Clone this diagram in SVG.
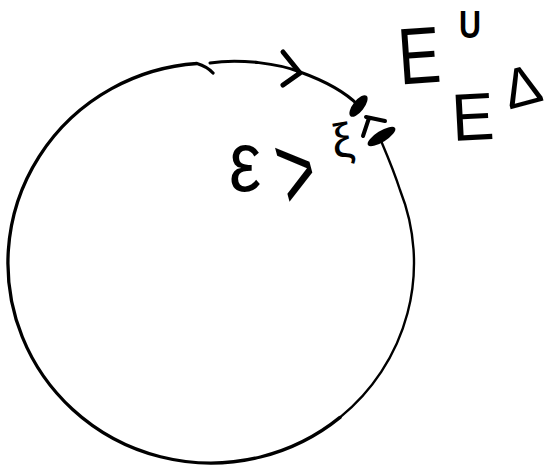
<svg xmlns="http://www.w3.org/2000/svg" width="549" height="468" viewBox="0 0 549 468">
<style>
.ln{fill:none;stroke:#000;stroke-linecap:round;stroke-linejoin:round}
.tx{font-family:"Liberation Sans",Arial,sans-serif;fill:#000}
</style>
<rect width="549" height="468" fill="#fff"/>
<g id="connectors">
<path class="ln" stroke-width="3.3" d="M213,73 Q207,66.5 197,63.5 A203,200 0 1 0 340,417.4"/>
<path class="ln" stroke-width="2.4" d="M340,417.4 A203,200 0 0 0 400,190 C393,168 384,148 379,136"/>
<path class="ln" stroke-width="3" d="M210,63 C240,58 280,64 300,72 C325,81 345,92 358,105"/>
<path class="ln" stroke-width="5" d="M283,52 L300,73 L283,85"/>
<ellipse cx="358.5" cy="106" rx="13" ry="5.5" transform="rotate(-52 358.5 106)" fill="#000"/>
<ellipse cx="381.5" cy="136.5" rx="16" ry="5.5" transform="rotate(-32 381.5 136.5)" fill="#000"/>
<path class="ln" stroke-width="4" d="M363,136 L369,118 M366,117 L385,121"/>
</g>
<g id="label-eps">
<text class="tx" font-size="85" text-anchor="middle" transform="translate(245,191) scale(0.85,1)">ε</text>
<text class="tx" font-size="100" text-anchor="middle" transform="translate(306,206) rotate(-15) scale(0.61,1.1)">&gt;</text>
<text class="tx" font-size="48" text-anchor="middle" transform="translate(345,157) rotate(-10)">ξ</text>
</g>
<g id="label-Eu">
<text class="tx" font-size="80" text-anchor="middle" transform="translate(421,83) rotate(-4) scale(0.8,1)">E</text>
<text class="tx" font-size="38" font-weight="bold" text-anchor="middle" transform="translate(470,38) scale(0.8,1)">U</text>
</g>
<g id="label-Ed">
<text class="tx" font-size="67" text-anchor="middle" transform="translate(474,140) rotate(-3) scale(0.95,1)">E</text>
<text class="tx" font-size="56" text-anchor="middle" transform="translate(527,105) rotate(-15)">Δ</text>
</g>
</svg>
